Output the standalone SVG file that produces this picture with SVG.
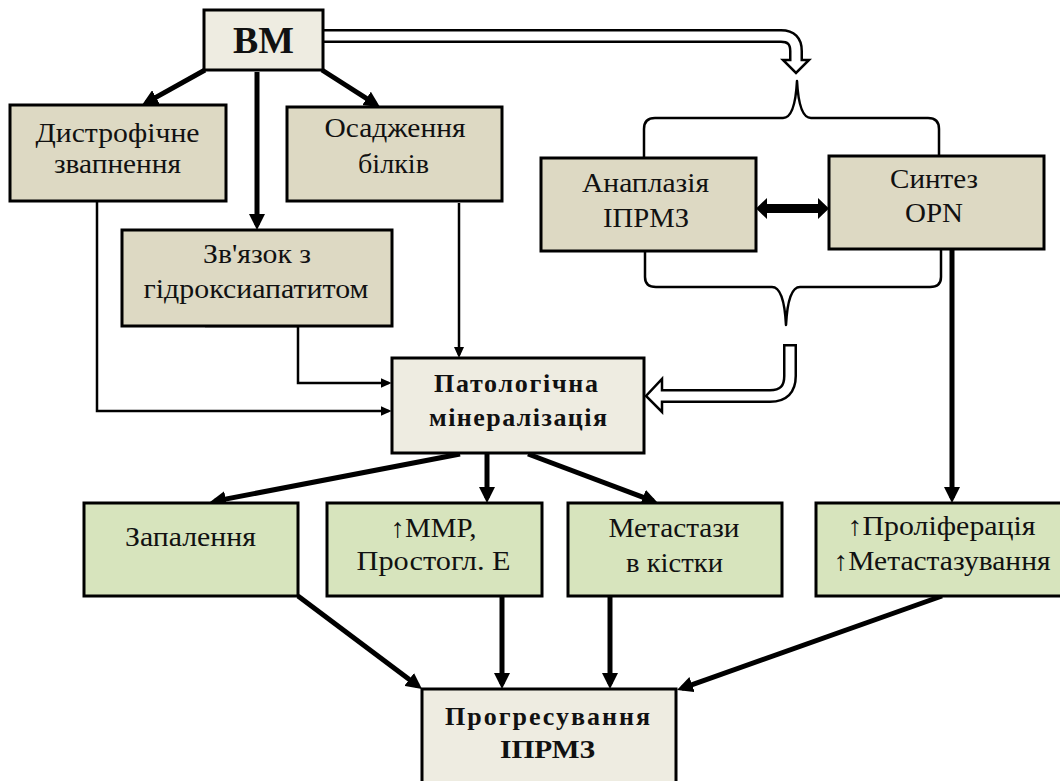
<svg xmlns="http://www.w3.org/2000/svg" width="1060" height="781" viewBox="0 0 1060 781" font-family="'Liberation Serif', 'Times New Roman', 'DejaVu Serif', serif">
<style>
.box{stroke:#000;stroke-width:3}
.tan{fill:#ddd9c3}
.lt{fill:#eeece1}
.gr{fill:#d7e4bd}
text{font-family:'Liberation Serif','Times New Roman','DejaVu Serif',serif}
.t{font-size:27px;text-anchor:middle;fill:#111}
.b{font-weight:bold}
.thick{stroke:#000;stroke-width:5;fill:none}
.thin{stroke:#000;stroke-width:2.5;fill:none}
.brace{stroke:#000;stroke-width:2.5;fill:none;stroke-linejoin:round}
.hb{stroke:#000;stroke-width:14;fill:none}
.hw{stroke:#fff;stroke-width:9;fill:none}
.hh{fill:#fff;stroke:#000;stroke-width:2.5;stroke-linejoin:miter}
</style>
<defs>
<marker id="ah" markerUnits="userSpaceOnUse" markerWidth="16" markerHeight="16" viewBox="0 0 16 16" refX="11" refY="8" orient="auto"><path d="M0,0 L16,8 L0,16 z" fill="#000"/></marker>
<marker id="at" markerUnits="userSpaceOnUse" markerWidth="11" markerHeight="10" viewBox="0 0 11 10" refX="8" refY="5" orient="auto"><path d="M0,0 L11,5 L0,10 z" fill="#000"/></marker>
</defs>
<rect width="1060" height="781" fill="#fff"/>

<g id="connectors">
<path class="thick" d="M205,70 L146.4,102.6" marker-end="url(#ah)"/>
<path class="thick" d="M257,72 V225" marker-end="url(#ah)"/>
<path class="thick" d="M322,70 L375.8,104.3" marker-end="url(#ah)"/>
<path class="thin" d="M97,202 V411 H388.6" marker-end="url(#at)"/>
<path class="thin" d="M205,326 H298 V383 H388.6" marker-end="url(#at)"/>
<path class="thin" d="M459,203 V355" marker-end="url(#at)"/>
<path class="thick" d="M460,454 L214.9,501.1" marker-end="url(#ah)"/>
<path class="thick" d="M487,453 V498" marker-end="url(#ah)"/>
<path class="thick" d="M528,454 L653.3,501.2" marker-end="url(#ah)"/>
<path class="thick" d="M298,596 L418,686" marker-end="url(#ah)"/>
<path class="thick" d="M502,596 V684" marker-end="url(#ah)"/>
<path class="thick" d="M610,596 V684" marker-end="url(#ah)"/>
<path class="thick" d="M942,596 L681.7,688.3" marker-end="url(#ah)"/>
<path class="thick" d="M952,249 V498" marker-end="url(#ah)"/>
<path d="M756,208.5 L767,198 L767,204 L818,204 L818,198 L829,208.5 L818,219 L818,213 L767,213 L767,219 Z" fill="#000"/>
<path class="brace" d="M644,157 V129 Q644,118 655,118 H783 Q795,118 797,81 Q799,118 811,118 H928 Q939,118 939,129 V156"/>
<path class="brace" d="M645,251 V277 Q645,287 656,287 H772 Q784,287 786,325 Q788,287 800,287 H930 Q941,287 941,277 V249"/>
<path class="hb" d="M323,36 H781 Q796,36 796,51 V61"/>
<polygon class="hh" points="783,60 809,60 796,73"/>
<path class="hw" d="M320,36 H781 Q796,36 796,51 V62"/>
<path class="hb" d="M790,344 V376 Q790,396 770,396 H661"/>
<polygon class="hh" points="662,379 662,412 646,396"/>
<path class="hw" d="M790,346.5 V376 Q790,396 770,396 H660"/>
</g>

<g id="n-vm">
<rect class="box lt" x="204" y="10" width="119" height="60"/>
<text class="t b" x="263.5" y="53" style="font-size:38px" textLength="61" lengthAdjust="spacingAndGlyphs">ВМ</text>
</g>
<g id="n-dystr">
<rect class="box tan" x="10" y="105" width="216" height="96"/>
<text class="t" x="117.5" y="141.5" textLength="164" lengthAdjust="spacingAndGlyphs">Дистрофічне</text>
<text class="t" x="117.5" y="173" textLength="127" lengthAdjust="spacingAndGlyphs">звапнення</text>
</g>
<g id="n-osad">
<rect class="box tan" x="287" y="107" width="215" height="94"/>
<text class="t" x="395" y="137" textLength="141" lengthAdjust="spacingAndGlyphs">Осадження</text>
<text class="t" x="393.5" y="173" textLength="71" lengthAdjust="spacingAndGlyphs">білків</text>
</g>
<g id="n-zv">
<rect class="box tan" x="122" y="230" width="270" height="96"/>
<text class="t" x="257" y="263" textLength="108" lengthAdjust="spacingAndGlyphs">Зв'язок з</text>
<text class="t" x="256" y="298" textLength="225" lengthAdjust="spacingAndGlyphs">гідроксиапатитом</text>
</g>
<g id="n-anapl">
<rect class="box tan" x="541" y="158" width="215" height="93"/>
<text class="t" x="645.5" y="192" textLength="127" lengthAdjust="spacingAndGlyphs">Анаплазія</text>
<text class="t" x="646" y="227" textLength="86" lengthAdjust="spacingAndGlyphs">ІПРМЗ</text>
</g>
<g id="n-synt">
<rect class="box tan" x="829" y="156" width="215" height="93"/>
<text class="t" x="934" y="188" textLength="88" lengthAdjust="spacingAndGlyphs">Синтез</text>
<text class="t" x="934" y="222" textLength="58" lengthAdjust="spacingAndGlyphs">OPN</text>
</g>
<g id="n-patol">
<rect class="box lt" x="392" y="358" width="252" height="95"/>
<text class="t b" x="516" y="392" style="font-size:26px" textLength="164" lengthAdjust="spacing">Патологічна</text>
<text class="t b" x="518" y="426" style="font-size:26px" textLength="178" lengthAdjust="spacing">мінералізація</text>
</g>
<g id="n-zapal">
<rect class="box gr" x="84" y="503" width="214" height="93"/>
<text class="t" x="190.5" y="546" textLength="131" lengthAdjust="spacingAndGlyphs">Запалення</text>
</g>
<g id="n-mmp">
<rect class="box gr" x="327" y="503" width="215" height="93"/>
<text class="t" x="433.6" y="537" textLength="86" lengthAdjust="spacingAndGlyphs">↑MMP,</text>
<text class="t" x="433.6" y="570" textLength="154" lengthAdjust="spacingAndGlyphs">Простогл. Е</text>
</g>
<g id="n-metast">
<rect class="box gr" x="568" y="503" width="214" height="93"/>
<text class="t" x="674" y="537" textLength="131" lengthAdjust="spacingAndGlyphs">Метастази</text>
<text class="t" x="674.5" y="572" textLength="97" lengthAdjust="spacingAndGlyphs">в кістки</text>
</g>
<g id="n-prolif">
<rect class="box gr" x="816" y="503" width="260" height="93"/>
<text class="t" x="941.6" y="535" textLength="188" lengthAdjust="spacingAndGlyphs">↑Проліферація</text>
<text class="t" x="942" y="570" textLength="217" lengthAdjust="spacingAndGlyphs">↑Метастазування</text>
</g>
<g id="n-progr">
<rect class="box lt" x="422" y="689" width="254" height="110"/>
<text class="t b" x="547.5" y="725" style="font-size:26px" textLength="205" lengthAdjust="spacing">Прогресування</text>
<text class="t b" x="547.5" y="758" style="font-size:26px" textLength="95" lengthAdjust="spacingAndGlyphs">ІПРМЗ</text>
</g>
</svg>
